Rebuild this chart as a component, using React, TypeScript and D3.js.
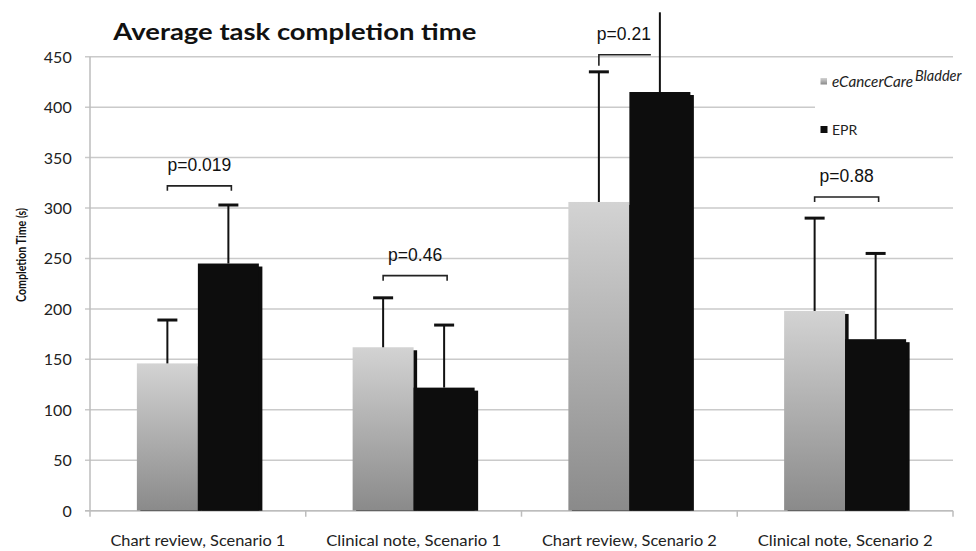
import React from "react";
import * as d3 from "d3";

const categories = [
  "Chart review, Scenario 1",
  "Clinical note, Scenario 1",
  "Chart review, Scenario 2",
  "Clinical note, Scenario 2",
];
const seriesNames = ["eCancerCare", "EPR"];
const eccValues = [146, 162, 306, 198];
const eprValues = [245, 122, 415, 170];
const eccErrTop = [189, 211, 435, 290];
const eprErrTop = [303, 184, 494, 255];
const pLabels = ["p=0.019", "p=0.46", "p=0.21", "p=0.88"];
const pLevels = [322, 233, 452, 311];
const yTicks = [0, 50, 100, 150, 200, 250, 300, 350, 400, 450];

const W = 976;
const H = 551;
const left = 90;
const right = 953;
const top = 56.7;
const bottom = 510.7;
const FONT = "Lato, 'Open Sans', sans-serif";

export default function App() {
  const x = d3.scaleBand<string>().domain(categories).range([left, right]).paddingInner(0).paddingOuter(0);
  const y = d3.scaleLinear().domain([0, 450]).range([bottom, top]);
  const bw = 61;
  const groupW = bw * 2;
  const gx = (c: string) => (x(c) as number) + (x.bandwidth() - groupW) / 2;
  const sx = 3.5;
  const sy = 3;
  const boundaries = [...categories.map((c) => x(c) as number), right];

  return (
    <svg width={W} height={H} style={{ position: "absolute", left: 0, top: 0, background: "#fff" }}>
      <defs>
        <linearGradient id="grayGrad" x1="0" y1="0" x2="0" y2="1">
          <stop offset="0" stopColor="#d3d3d3" />
          <stop offset="1" stopColor="#8a8a8a" />
        </linearGradient>
        <clipPath id="plotClip">
          <rect x={0} y={0} width={W} height={bottom} />
        </clipPath>
      </defs>

      {/* gridlines */}
      {yTicks.map((t) => (
        <line key={t} x1={85} x2={right} y1={y(t)} y2={y(t)} stroke="#cacaca" strokeWidth={1.5} />
      ))}
      {/* axes */}
      <line x1={left} x2={left} y1={top} y2={bottom} stroke="#bdbdbd" strokeWidth={1.5} />
      <line x1={85} x2={right} y1={bottom} y2={bottom} stroke="#bdbdbd" strokeWidth={1.5} />
      {boundaries.map((b, i) => (
        <line key={i} x1={b} x2={b} y1={bottom} y2={bottom + 6} stroke="#bdbdbd" strokeWidth={1.5} />
      ))}
      {yTicks.map((t) => (
        <text key={t} x={71.7} y={y(t) + 6} textAnchor="end" fontFamily={FONT} fontSize={16} fill="#222">
          {t}
        </text>
      ))}

      {/* bars */}
      <g clipPath="url(#plotClip)">
        {categories.map((c, i) => {
          const x0 = gx(c);
          const x1 = x0 + bw;
          return (
            <g key={c}>
              <rect x={x0 + sx} y={y(eccValues[i]) + sy} width={bw} height={bottom - y(eccValues[i])} fill="#0d0d0d" />
              <rect x={x0} y={y(eccValues[i])} width={bw} height={bottom - y(eccValues[i])} fill="url(#grayGrad)" />
              <rect x={x1 + sx} y={y(eprValues[i]) + sy} width={bw} height={bottom - y(eprValues[i])} fill="#0d0d0d" />
              <rect x={x1} y={y(eprValues[i])} width={bw} height={bottom - y(eprValues[i])} fill="#0d0d0d" />
            </g>
          );
        })}
      </g>

      {/* error bars */}
      {categories.map((c, i) => {
        const cx0 = gx(c) + bw / 2;
        const cx1 = gx(c) + bw + bw / 2;
        const capped1 = eprErrTop[i] <= 450;
        return (
          <g key={"e" + c} stroke="#111">
            <line x1={cx0} x2={cx0} y1={y(eccValues[i])} y2={y(eccErrTop[i])} strokeWidth={2} />
            <line x1={cx0 - 10} x2={cx0 + 10} y1={y(eccErrTop[i])} y2={y(eccErrTop[i])} strokeWidth={3} />
            <line x1={cx1} x2={cx1} y1={y(eprValues[i])} y2={y(eprErrTop[i])} strokeWidth={2} />
            {capped1 && (
              <line x1={cx1 - 10} x2={cx1 + 10} y1={y(eprErrTop[i])} y2={y(eprErrTop[i])} strokeWidth={3} />
            )}
          </g>
        );
      })}

      {/* p-value brackets */}
      {categories.map((c, i) => {
        const cx0 = gx(c) + bw / 2;
        const cx1 = gx(c) + bw + bw / 2 + 3;
        const by = y(pLevels[i]);
        const half = i === 2;
        const xr = half ? cx0 + 52 : cx1;
        const d = half
          ? `M${cx0},${by + 11} V${by} H${xr}`
          : `M${cx0},${by + 5} V${by} H${xr} V${by + 5}`;
        return (
          <g key={"p" + c}>
            <path d={d} fill="none" stroke="#222" strokeWidth={1.6} />
            <text
              x={(cx0 + xr) / 2 + (half ? -1 : 0)}
              y={by - 15}
              textAnchor="middle"
              fontFamily="'Liberation Sans', Arial, sans-serif"
              fontSize={17.5}
              fill="#111"
            >
              {pLabels[i]}
            </text>
          </g>
        );
      })}

      {/* x labels */}
      {categories.map((c) => (
        <text
          key={"l" + c}
          x={(x(c) as number) + x.bandwidth() / 2}
          y={546}
          textAnchor="middle"
          fontFamily={FONT}
          fontSize={16}
          fill="#222"
          textLength={175}
          lengthAdjust="spacingAndGlyphs"
        >
          {c}
        </text>
      ))}

      {/* y axis title */}
      <text
        transform={`translate(25.5,255) rotate(-90)`}
        textAnchor="middle"
        fontFamily={FONT}
        fontWeight="bold"
        fontSize={14}
        fill="#111"
        textLength={94}
        lengthAdjust="spacingAndGlyphs"
      >
        Completion Time (s)
      </text>

      {/* title */}
      <text
        x={113.3}
        y={40}
        fontFamily={FONT}
        fontWeight="bold"
        fontSize={23}
        fill="#111"
        textLength={363}
        lengthAdjust="spacingAndGlyphs"
      >
        Average task completion time
      </text>

      {/* legend */}
      <rect x={815} y={64} width={161} height={86} fill="#fff" />
      <rect x={820.5} y={78} width={6.5} height={6.5} fill="url(#grayGrad)" />
      <text x={832} y={87} fontFamily={FONT} fontStyle="italic" fontSize={14.5} fill="#222">
        <tspan textLength={81} lengthAdjust="spacingAndGlyphs">{seriesNames[0]}</tspan>
        <tspan x={915} y={81} fontSize={14.5}>Bladder</tspan>
      </text>
      <rect x={820.5} y={126} width={7} height={7} fill="#0d0d0d" />
      <text x={832} y={135} fontFamily={FONT} fontSize={14} fill="#222">
        {seriesNames[1]}
      </text>
    </svg>
  );
}
